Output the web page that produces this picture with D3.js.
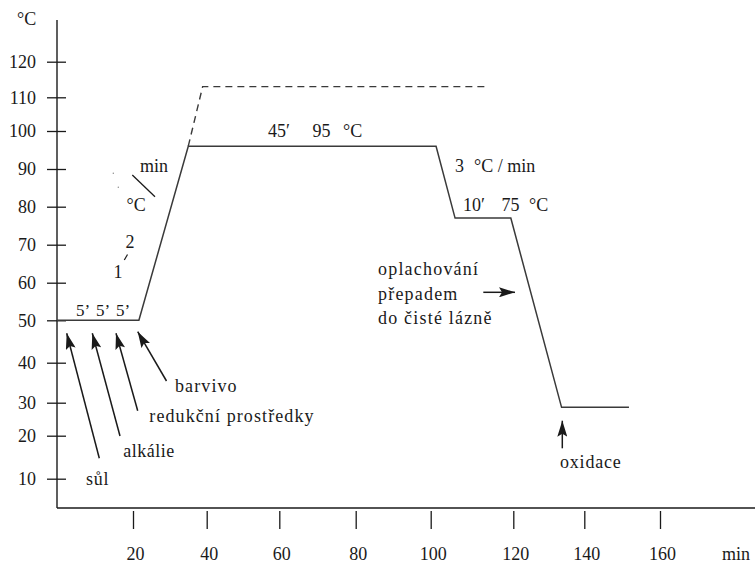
<!DOCTYPE html>
<html>
<head>
<meta charset="utf-8">
<script src="https://cdn.jsdelivr.net/npm/d3@7/dist/d3.min.js"></script>
<style>
  html, body { margin: 0; padding: 0; background: #fff; }
  svg { display: block; }
  text { font-family: "Liberation Serif", "DejaVu Serif", serif; fill: #1a1a1a; }
</style>
</head>
<body>
<svg id="chart" width="755" height="564"></svg>
<script>
// ---------------- DATA ----------------
const yTicks = [10, 20, 30, 40, 50, 60, 70, 80, 90, 100, 110, 120];
const xTicks = [20, 40, 60, 80, 100, 120, 140, 160];
// dyeing temperature profile (min, °C)
const profileTime = [0, 21.6, 35, 101.3, 105.9, 119.4, 133.6, 151.8];
const profileTemp = [50, 50, 96, 96, 77, 77, 28.6, 28.6];
// dashed alternative (high-temperature) profile
const altTime = [35, 38.9, 113.1];
const altTemp = [96, 113, 113];
// chemical additions (arrow tips, min)
const additionLabels = ["sůl", "alkálie", "redukční prostředky", "barvivo"];

// ---------------- LAYOUT ----------------
const W = 755, H = 564;
// hand-drawn axes: tick positions are uneven, so a piecewise linear scale is used
const xDomain = [0, 20, 40, 60, 80, 100, 120, 140, 160];
const xRange  = [57, 133, 206.7, 279.3, 355.7, 430.7, 513.3, 584.3, 660];
const yDomain = [0, 10, 20, 30, 40, 50, 60, 70, 80, 90, 100, 110, 120];
const yRange  = [508, 478.7, 435.7, 402.7, 362.7, 320.3, 282.7, 244.7, 206.7, 169, 131, 97.3, 61.7];

const x = d3.scaleLinear().domain(xDomain).range(xRange);
const y = d3.scaleLinear().domain(yDomain).range(yRange);

const svg = d3.select("#chart");
const ink = "#1a1a1a";
const lineInk = "#3a3a3a";

// arrow marker
svg.append("defs").append("marker")
  .attr("id", "arrow")
  .attr("markerUnits", "userSpaceOnUse")
  .attr("viewBox", "0 0 16 10")
  .attr("refX", 16).attr("refY", 5)
  .attr("markerWidth", 16).attr("markerHeight", 10)
  .attr("orient", "auto")
  .append("path")
  .attr("d", "M0,0 L16,5 L0,10 L3,5 Z")
  .attr("fill", ink);

// axis lines
svg.append("line")
  .attr("x1", x(0)).attr("x2", x(0))
  .attr("y1", 20).attr("y2", y(0))
  .attr("stroke", ink).attr("stroke-width", 1.4);
svg.append("line")
  .attr("x1", x(0)).attr("x2", W)
  .attr("y1", y(0)).attr("y2", y(0))
  .attr("stroke", ink).attr("stroke-width", 1.4);

// y axis
const yAxis = svg.append("g")
  .attr("transform", `translate(${x(0)},0)`)
  .call(d3.axisLeft(y).tickValues(yTicks).tickSize(10).tickPadding(11).tickSizeOuter(0));
yAxis.select(".domain").remove();
yAxis.selectAll(".tick line").attr("x1", 9).attr("stroke", ink).attr("stroke-width", 1.3);
yAxis.selectAll(".tick text")
  .attr("font-family", "Liberation Serif").attr("font-size", 18).attr("fill", ink);

// x axis
const xAxis = svg.append("g")
  .attr("transform", `translate(0,${y(0)})`)
  .call(d3.axisBottom(x).tickValues(xTicks).tickSize(0).tickSizeOuter(0));
xAxis.select(".domain").remove();
xAxis.selectAll(".tick line").attr("y1", 3).attr("y2", 21).attr("stroke", ink).attr("stroke-width", 1.3);
xAxis.selectAll(".tick text")
  .attr("font-family", "Liberation Serif").attr("font-size", 18).attr("fill", ink)
  .attr("dy", 0).attr("y", 52).attr("x", 2);

// axis titles
svg.append("text").attr("x", 17).attr("y", 25).attr("font-size", 18).text("°C");
svg.append("text").attr("x", 722).attr("y", 560).attr("font-size", 18).text("min");

// profile lines
const line = d3.line().x(d => x(d[0])).y(d => y(d[1]));
svg.append("path")
  .datum(d3.zip(altTime, altTemp))
  .attr("d", line)
  .attr("fill", "none").attr("stroke", lineInk).attr("stroke-width", 1.4)
  .attr("stroke-dasharray", "7,5");
svg.append("path")
  .datum(d3.zip(profileTime, profileTemp))
  .attr("d", line)
  .attr("fill", "none").attr("stroke", lineInk).attr("stroke-width", 1.5);

// ---------------- ANNOTATIONS ----------------
function txt(t, px, py, size, ls) {
  return svg.append("text").attr("x", px).attr("y", py)
    .attr("font-size", size || 18)
    .attr("letter-spacing", ls || 0)
    .text(t);
}
function seg(x1, y1, x2, y2, w) {
  svg.append("line").attr("x1", x1).attr("y1", y1).attr("x2", x2).attr("y2", y2)
    .attr("stroke", ink).attr("stroke-width", w || 1.3);
}
function arrow(x1, y1, x2, y2) {
  svg.append("line").attr("x1", x1).attr("y1", y1).attr("x2", x2).attr("y2", y2)
    .attr("stroke", ink).attr("stroke-width", 1.5).attr("marker-end", "url(#arrow)");
}

// 5' additions
[76, 96, 116].forEach(px => txt("5’", px, 316, 17));

// heating rate 1/2 °C / min
txt("1", 113.5, 278, 18);
seg(124.3, 260, 127.5, 254.5, 1.2);
txt("2", 125.5, 248, 18);
txt("°C", 126.5, 211, 18);
seg(132.3, 175, 155, 196.7, 1.3);
txt("min", 140, 171.5, 18);
svg.append("circle").attr("cx", 113.3).attr("cy", 173.3).attr("r", 0.7).attr("fill", "#888");
svg.append("circle").attr("cx", 118.3).attr("cy", 187.3).attr("r", 0.7).attr("fill", "#888");

// 45' 95 °C
txt("45′", 268, 136.7, 18);
txt("95", 312.5, 136.7, 18);
txt("°C", 343, 136.7, 18);

// 3 °C / min
txt("3", 455, 171.7, 18);
txt("°C / min", 474, 171.7, 18);

// 10' 75 °C
txt("10′", 463, 210.5, 18);
txt("75", 501.5, 210.5, 18);
txt("°C", 529, 210.5, 18);

// rinsing
txt("oplachování", 378, 274.5, 18, 1.2);
txt("přepadem", 378, 299.5, 18, 1.2);
txt("do čisté lázně", 378, 323.5, 18, 1.2);
arrow(483.3, 292.3, 515, 292.3);

// chemical additions
arrow(99.3, 458.3, 66.7, 333.3);
arrow(120, 436, 92.3, 333.3);
arrow(137.7, 410.7, 116, 333.3);
arrow(166.5, 381, 137.7, 331.7);
txt(additionLabels[0], 86, 484.5, 18, 0.8);
txt(additionLabels[1], 123.3, 457, 18, 0.5);
txt(additionLabels[2], 149.3, 421.7, 18, 1.1);
txt(additionLabels[3], 175, 391.7, 18, 1.1);

// oxidation
arrow(562.3, 448.3, 562.3, 420.7);
txt("oxidace", 560, 468.3, 18, 0.8);
</script>
</body>
</html>
